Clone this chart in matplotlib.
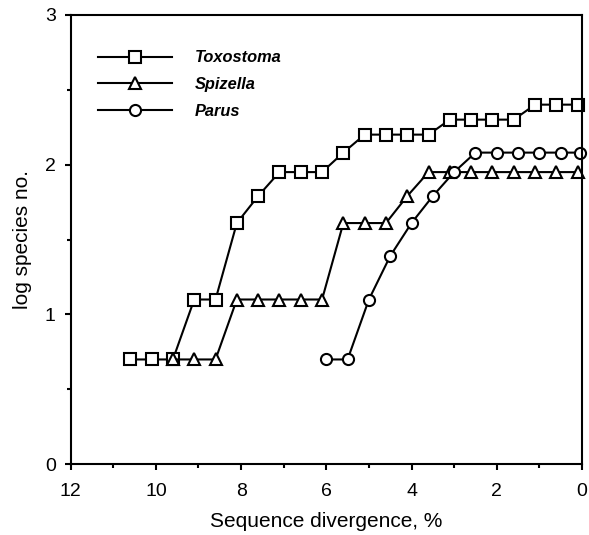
import matplotlib
matplotlib.use('Agg')
import matplotlib.pyplot as plt
from matplotlib.ticker import MultipleLocator

plt.rcParams['font.family'] = ['Liberation Sans', 'DejaVu Sans']

# data (log species no. vs sequence divergence, %)
toxo_x = [10.6, 10.1, 9.6, 9.1, 8.6, 8.1, 7.6, 7.1, 6.6, 6.1, 5.6,
          5.1, 4.6, 4.1, 3.6, 3.1, 2.6, 2.1, 1.6, 1.1, 0.6, 0.1]
toxo_y = [0.70, 0.70, 0.70, 1.10, 1.10, 1.61, 1.79, 1.95, 1.95, 1.95, 2.08,
          2.20, 2.20, 2.20, 2.20, 2.30, 2.30, 2.30, 2.30, 2.40, 2.40, 2.40]

spiz_x = [9.6, 9.1, 8.6, 8.1, 7.6, 7.1, 6.6, 6.1, 5.6, 5.1,
          4.6, 4.1, 3.6, 3.1, 2.6, 2.1, 1.6, 1.1, 0.6, 0.1]
spiz_y = [0.70, 0.70, 0.70, 1.10, 1.10, 1.10, 1.10, 1.10, 1.61, 1.61,
          1.61, 1.79, 1.95, 1.95, 1.95, 1.95, 1.95, 1.95, 1.95, 1.95]

parus_x = [6.0, 5.5, 5.0, 4.5, 4.0, 3.5, 3.0, 2.5, 2.0, 1.5, 1.0, 0.5, 0.05]
parus_y = [0.70, 0.70, 1.10, 1.39, 1.61, 1.79, 1.95, 2.08, 2.08, 2.08, 2.08, 2.08, 2.08]

series = [
    ('Toxostoma', toxo_x, toxo_y, 's'),
    ('Spizella', spiz_x, spiz_y, '^'),
    ('Parus', parus_x, parus_y, 'o'),
]

fig = plt.figure(figsize=(5.89, 5.35), dpi=100)
ax = fig.add_axes([0.120, 0.132, 0.868, 0.8405])

for name, xs, ys, mk in series:
    ax.plot(xs, ys, color='black', lw=1.5, marker=mk, markersize=8,
            markerfacecolor='white', markeredgecolor='black',
            markeredgewidth=1.5, label=name, clip_on=False)

ax.set_xlim(12, 0)
ax.set_ylim(0, 3)
ax.xaxis.set_major_locator(MultipleLocator(2))
ax.xaxis.set_minor_locator(MultipleLocator(1))
ax.yaxis.set_major_locator(MultipleLocator(1))
ax.yaxis.set_minor_locator(MultipleLocator(0.5))

for s in ax.spines.values():
    s.set_linewidth(1.5)
ax.tick_params(which='major', direction='out', length=4.3, width=1.5,
               labelsize=14, pad=6.5)
ax.tick_params(axis='x', which='major', pad=9)
ax.tick_params(which='minor', direction='out', length=3, width=1.5)

ax.set_xlabel('Sequence divergence, %', fontsize=15, labelpad=9)
ax.set_ylabel('log species no.', fontsize=15, labelpad=9)

leg = ax.legend(loc='upper left', bbox_to_anchor=(0.053, 0.921),
                frameon=False, numpoints=1, handlelength=4.5,
                handletextpad=1.43, labelspacing=0.72, borderpad=0,
                borderaxespad=0,
                prop={'size': 11.8, 'weight': 'bold', 'style': 'italic'})

fig.savefig('out.png', dpi=100)
